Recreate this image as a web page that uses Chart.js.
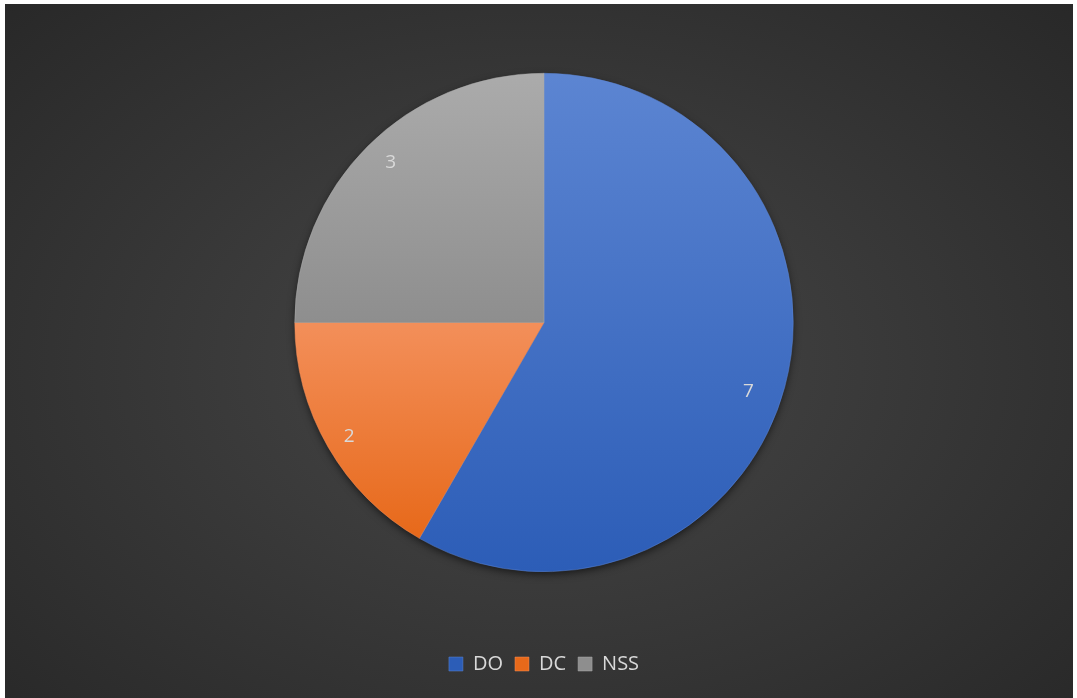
<!DOCTYPE html>
<html>
<head>
<meta charset="utf-8">
<script src="https://cdn.jsdelivr.net/npm/chart.js@4.4.0/dist/chart.umd.min.js"></script>
<style>
  html, body { margin: 0; padding: 0; background: #fff; }
  #wrap {
    position: absolute; left: 5px; top: 4px; width: 1068px; height: 694px;
    background: radial-gradient(ellipse 75% 80% at 50% 52%, #474747 0%, #3a3a3a 40%, #262626 100%);
  }
  canvas { display: block; }
</style>
</head>
<body>
<div id="wrap"><canvas id="pieChart" width="1068" height="694"></canvas></div>
<script>
const labels = ["DO", "DC", "NSS"];
const values = [7, 2, 3];

// top / bottom colours of each slice gradient, plus the vertical span (fraction of diameter)
const gradTop = ["#5c85d2", "#f38f5a", "#ababab"];
const gradBottom = ["#2c5db7", "#e7691a", "#8e8e8e"];
const gradSpan = [[0, 1], [0.5, 0.93], [0, 0.5]];
// small nudges for the value labels (px), like Excel's placement
const labelNudge = [[-5, 13], [-7, 6], [0, -7]];

function sliceColor(context) {
  const chart = context.chart;
  const area = chart.chartArea;
  if (!area) return gradTop[context.dataIndex];
  const i = context.dataIndex;
  const cy = (area.top + area.bottom) / 2;
  const r = Math.min(area.right - area.left, area.bottom - area.top) / 2;
  const y0 = cy - r + gradSpan[i][0] * 2 * r;
  const y1 = cy - r + gradSpan[i][1] * 2 * r;
  const g = chart.ctx.createLinearGradient(0, y0, 0, y1);
  g.addColorStop(0, gradTop[i]);
  g.addColorStop(1, gradBottom[i]);
  return g;
}

// soft shadow under the whole pie
const pieShadow = {
  id: "pieShadow",
  beforeDatasetsDraw(chart) {
    const arc = chart.getDatasetMeta(0).data[0];
    if (!arc) return;
    const ctx = chart.ctx;
    ctx.save();
    ctx.shadowColor = "rgba(0,0,0,0.65)";
    ctx.shadowBlur = 9;
    ctx.shadowOffsetX = 0;
    ctx.shadowOffsetY = 3;
    ctx.fillStyle = "#333";
    ctx.beginPath();
    ctx.arc(arc.x, arc.y, arc.outerRadius - 1, 0, Math.PI * 2);
    ctx.fill();
    ctx.restore();
  }
};

// value labels inside the slices
const sliceLabels = {
  id: "sliceLabels",
  afterDatasetsDraw(chart) {
    const ctx = chart.ctx;
    ctx.save();
    ctx.fillStyle = "#d9d9d9";
    ctx.font = "19px 'Open Sans', 'Noto Sans', sans-serif";
    ctx.textAlign = "center";
    ctx.textBaseline = "middle";
    chart.getDatasetMeta(0).data.forEach((arc, i) => {
      const p = arc.getProps(["x", "y", "startAngle", "endAngle", "outerRadius"], true);
      const mid = (p.startAngle + p.endAngle) / 2;
      const rr = p.outerRadius * 0.87;
      ctx.fillText(String(values[i]),
        p.x + Math.cos(mid) * rr + labelNudge[i][0],
        p.y + Math.sin(mid) * rr + labelNudge[i][1]);
    });
    ctx.restore();
  }
};

new Chart(document.getElementById("pieChart"), {
  type: "pie",
  data: {
    labels: labels,
    datasets: [{
      data: values,
      backgroundColor: sliceColor,
      borderColor: gradTop,
      borderWidth: 0.5
    }]
  },
  options: {
    responsive: false,
    animation: false,
    layout: { padding: { top: 69, bottom: 14, left: 10, right: 0 } },
    plugins: {
      tooltip: { enabled: false },
      legend: {
        position: "bottom",
        title: { display: true, text: " ", padding: { top: 58, bottom: 0 }, font: { size: 10 } },
        labels: {
          color: "#d9d9d9",
          boxWidth: 14,
          boxHeight: 14,
          padding: 12,
          font: { size: 20, family: "'Open Sans', 'Noto Sans', sans-serif" }
        }
      }
    }
  },
  plugins: [pieShadow, sliceLabels]
});
</script>
</body>
</html>
